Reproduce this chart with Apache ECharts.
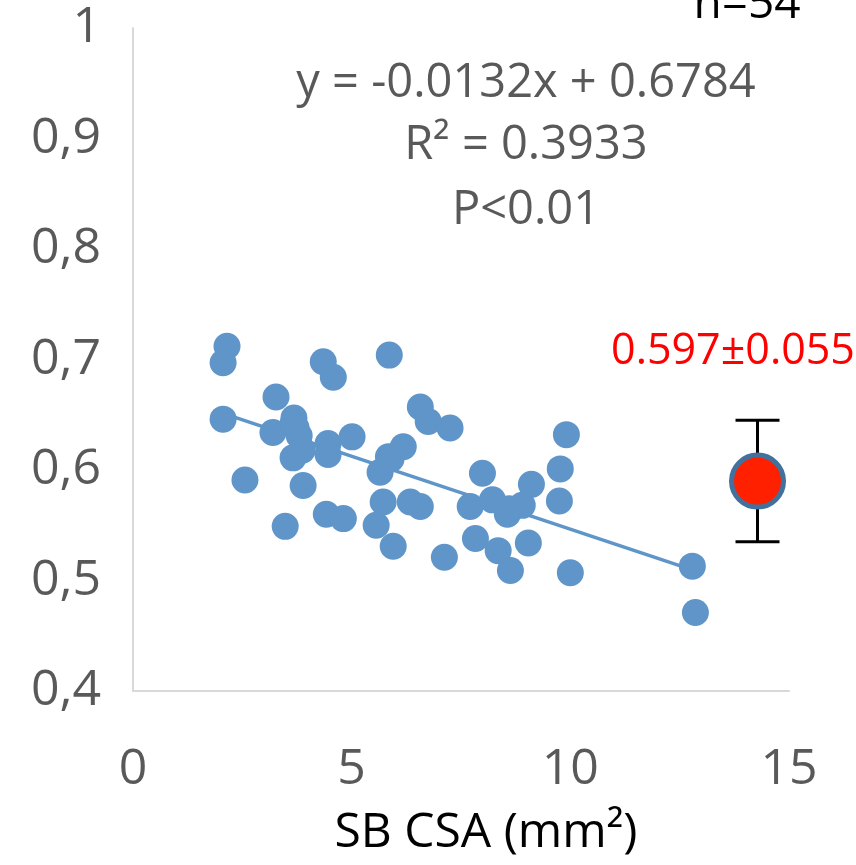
<!DOCTYPE html>
<html>
<head>
<meta charset="utf-8">
<script src="https://cdn.jsdelivr.net/npm/echarts@6/dist/echarts.min.js"></script>
<style>
html,body{margin:0;padding:0;background:#fff;}
#c{width:856px;height:865px;}
</style>
</head>
<body>
<div id="c"></div>
<script>
// SB CSA (mm²) values
const xVals = [2.15,2.06,2.06,2.56,3.27,3.20,3.48,3.68,3.66,3.80,3.87,3.66,3.89,4.35,4.58,4.46,4.46,4.42,4.81,5.01,
               5.86,5.65,5.72,5.56,5.84,5.95,6.18,6.34,6.57,6.57,6.75,7.25,7.12,7.71,7.83,7.99,8.22,8.35,8.56,8.63,
               8.90,9.11,9.04,9.77,9.75,9.91,10.00,12.79,12.86,3.73,5.90,8.60];
// y values
const yVals = [0.712,0.697,0.646,0.591,0.666,0.634,0.549,0.647,0.642,0.631,0.618,0.611,0.586,0.698,0.684,0.624,0.614,0.560,0.556,0.630,
               0.704,0.598,0.571,0.550,0.612,0.531,0.621,0.571,0.567,0.657,0.644,0.638,0.521,0.567,0.538,0.597,0.573,0.527,0.560,0.509,
               0.568,0.587,0.534,0.601,0.572,0.632,0.507,0.513,0.471,0.638,0.610,0.565];
// trendline
const slope = -0.0132;
const intercept = 0.6784;
const trendX = [2.06, 12.79];
// group mean ± SD
const meanX = [14.28];
const meanY = [0.590];
const meanErr = [0.055];
const meanLabel = '0.597±0.055';
const eqLines = ['y = -0.0132x + 0.6784', 'R² = 0.3933', 'P<0.01'];
const nLabel = 'n=54';
const xTitle = 'SB CSA (mm²)';

const pts = xVals.map((x,i)=>[x,yVals[i]]);
const trend = trendX.map(x=>[x, slope*x+intercept]);
const meanPts = meanX.map((x,i)=>[x, meanY[i], meanErr[i]]);

const FONT = 'Open Sans';
const GRAY = '#595959';
const BLUE = '#5F95C8';

const chart = echarts.init(document.getElementById('c'), null, {renderer:'canvas'});
chart.setOption({
  animation:false,
  backgroundColor:'#fff',
  grid:{left:133, right:67, top:28, bottom:174, containLabel:false},
  xAxis:{
    type:'value', min:0, max:15, interval:5,
    axisLine:{show:true, onZero:false, lineStyle:{color:'#D9D9D9', width:2}},
    axisTick:{show:false},
    splitLine:{show:false},
    axisLabel:{color:GRAY, fontFamily:FONT, fontSize:50, margin:54},
    name:xTitle, nameLocation:'middle', nameGap:118,
    nameTextStyle:{color:'#000', fontFamily:FONT, fontSize:48, padding:[0,0,0,50]}
  },
  yAxis:{
    type:'value', min:0.4, max:1, interval:0.1,
    axisLine:{show:true, onZero:false, lineStyle:{color:'#D9D9D9', width:2}},
    axisTick:{show:false},
    splitLine:{show:false},
    axisLabel:{color:GRAY, fontFamily:FONT, fontSize:50, margin:32, padding:[12,0,0,0],
      formatter:v=>{const r=Math.round(v*10)/10; return r===1?'1':r.toFixed(1).replace('.',',');}}
  },
  series:[
    {type:'line', data:trend, symbol:'none', lineStyle:{color:BLUE, width:3.5}, z:2, silent:true},
    {type:'scatter', data:pts, symbol:'circle', symbolSize:27,
     itemStyle:{color:BLUE, opacity:1}, z:3},
    {type:'custom', data:meanPts, z:4,
     renderItem:(params, api)=>{
       const x=api.value(0), y=api.value(1), e=api.value(2);
       const t=api.coord([x,y+e]), b=api.coord([x,y-e]);
       const hw=22, st={stroke:'#000', lineWidth:3};
       return {type:'group', children:[
         {type:'line', shape:{x1:t[0],y1:t[1],x2:b[0],y2:b[1]}, style:st},
         {type:'line', shape:{x1:t[0]-hw,y1:t[1],x2:t[0]+hw,y2:t[1]}, style:st},
         {type:'line', shape:{x1:b[0]-hw,y1:b[1],x2:b[0]+hw,y2:b[1]}, style:st}
       ]};
     }},
    {type:'scatter', data:meanPts.map(p=>[p[0],p[1]]), symbol:'circle', symbolSize:52, z:5,
     itemStyle:{color:'#FF2000', borderColor:'#41719C', borderWidth:5, opacity:1}}
  ],
  graphic:[
    {type:'text', x:526, y:84, style:{text:eqLines[0], fill:GRAY, font:'47px "Open Sans"', textAlign:'center', textVerticalAlign:'middle'}},
    {type:'text', x:526, y:146, style:{text:eqLines[1], fill:GRAY, font:'47px "Open Sans"', textAlign:'center', textVerticalAlign:'middle'}},
    {type:'text', x:526, y:211, style:{text:eqLines[2], fill:GRAY, font:'47px "Open Sans"', textAlign:'center', textVerticalAlign:'middle'}},
    {type:'text', x:733, y:352, style:{text:meanLabel, fill:'#FF0000', font:'43px "Open Sans"', textAlign:'center', textVerticalAlign:'middle'}},
    {type:'text', x:747, y:28, style:{text:nLabel, fill:'#000', font:'46px "Open Sans"', textAlign:'center', textVerticalAlign:'bottom'}}
  ]
});
</script>
</body>
</html>
